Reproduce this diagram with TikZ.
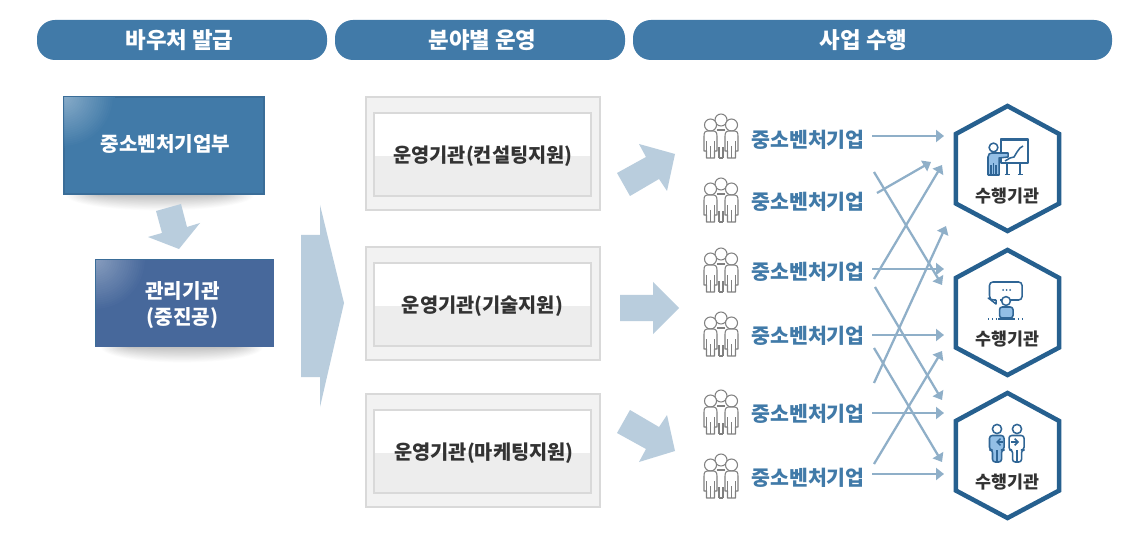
\documentclass[tikz,border=0pt]{standalone}
\usepackage{fontspec}
\setmainfont{Noto Sans CJK KR}
\usetikzlibrary{arrows.meta}
\definecolor{hdr}{HTML}{417AA8}
\definecolor{hdrb}{HTML}{3A6D98}
\definecolor{mgr}{HTML}{47689B}
\definecolor{pale}{HTML}{B9CDDD}
\definecolor{conn}{HTML}{8FAFC8}
\definecolor{hexc}{HTML}{26608F}
\definecolor{ink}{HTML}{333333}
\definecolor{iconl}{HTML}{2F6595}
\definecolor{iconf}{HTML}{93BFE6}
\definecolor{pers}{HTML}{808080}
\tikzset{
  hdrlabel/.style={text=white,font=\bfseries\fontsize{16.8}{20}\selectfont,inner sep=0pt},
  boxlabel/.style={text=white,font=\bfseries\fontsize{15.1}{18}\selectfont,inner sep=0pt,align=center},
  orglabel/.style={text=ink,font=\bfseries\fontsize{14.8}{18}\selectfont,inner sep=0pt},
  firmlabel/.style={text=hdr,font=\bfseries\fontsize{15.4}{18}\selectfont,inner sep=0pt},
  hexlabel/.style={text=ink,font=\bfseries\fontsize{13}{16}\selectfont,inner sep=0pt},
  flow/.style={draw=conn,line width=1.7pt,-{Triangle[length=6pt,width=9pt]}},
  hexline/.style={draw=hexc,fill=white,line width=3.4pt,miter limit=10},
  iconline/.style={draw=iconl,line width=1.15pt,line join=round},
  people/.pic={
    \begin{scope}[draw=pers,line width=.8pt,fill=white,line join=round]
      \filldraw (0,-17) circle (6);
      \draw (-4,-7) -- (4,-7);
      \draw (-2,10) -- (-2,21) (2,10) -- (2,21) (-2,21) -- (2,21);
      \foreach \s in {-1,1}{
        \begin{scope}[xscale=\s]
          \filldraw (10.5,-12) circle (6);
          \filldraw (4,14) -- (4,-1) .. controls (4,-5) and (6,-6) .. (7,-6)
            -- (14,-6) .. controls (15.5,-6) and (17,-5) .. (17,-1) -- (17,14)
            -- (14.5,14) -- (14.5,21) -- (6.5,21) -- (6.5,14) -- cycle;
          \draw (10.5,9) -- (10.5,21);
          \draw (6.5,4) -- (6.5,14) (14.5,4) -- (14.5,14);
        \end{scope}}
    \end{scope}},
  hexshape/.pic={
    \path[hexline] (0,-62.5) -- (51.7,-34.5) -- (51.7,35) -- (0,62.5) -- (-51.7,35) -- (-51.7,-34.5) -- cycle;}
}
\newcommand{\softshadow}[3]{% centre x, y, half width
  \begin{scope}
    \clip (#1-#3-10,#2-3) rectangle (#1+#3+10,#2+24);
    \foreach \k in {0,...,24}{
      \pgfmathsetmacro\rx{#3*(1-0.35*\k/24)}
      \pgfmathsetmacro\ry{16*(1-\k/25)}
      \pgfmathsetmacro\m{24*\k/24}
      \fill[black!\m] (#1,#2) ellipse (\rx*1 and \ry*1);
    }
  \end{scope}}
\newcommand{\cornerglow}[4]{% colour, x, y, mix
  \foreach \k in {0,...,24}{
    \pgfmathsetmacro\rr{52*(1-\k/25)}
    \pgfmathsetmacro\m{100-#4*\k/24}
    \fill[#1!\m!white] (#2,#3) circle (\rr);
  }}
\begin{document}
\begin{tikzpicture}[x=.75pt,y=-.75pt]
\useasboundingbox (0,0) rectangle (1148,541);
\fill[white] (0,0) rectangle (1148,541);

% headers
\fill[hdr,rounded corners=13.5pt] (37,20) rectangle (327,60);
\fill[hdr,rounded corners=13.5pt] (335,20) rectangle (625,60);
\fill[hdr,rounded corners=13.5pt] (633,20) rectangle (1112,60);
\node[hdrlabel] (h1) at (179.5,40) {바우처 발급};
\node[hdrlabel] (h2) at (482.5,40) {분야별 운영};
\node[hdrlabel] (h3) at (863.5,40) {사업 수행};

% soft shadows
\softshadow{160}{195}{95}
\softshadow{182}{347}{82}

% left boxes
\fill[hdr] (63,96) rectangle (265,195);
\draw[hdrb,line width=1.2pt] (63.8,96.8) rectangle (264.2,194.2);
\begin{scope}
  \clip (64.5,97.5) rectangle (263.5,193.5);
  \cornerglow{hdr}{63}{96}{38}
\end{scope}
\fill[mgr] (95,259) rectangle (274,347);
\draw[hdrb,line width=.9pt] (95.6,259.6) -- (273.4,259.6) (95.6,259.6) -- (95.6,346.4);
\begin{scope}
  \clip (96.2,260.2) rectangle (274,347);
  \cornerglow{mgr}{95}{259}{35}
\end{scope}
\node[boxlabel] (b1) at (165.5,144) {중소벤처기업부};
\node[boxlabel,align=center] (b2) at (182.5,305) {관리기관\\[1pt](중진공)};

% pale arrows
\fill[pale] (156,211) -- (181,204) -- (187,227) -- (200,223) -- (179,249) -- (148,237) -- (162,233) -- cycle;
\fill[pale] (301,235) -- (320,235) -- (320,205) -- (344,303) -- (320,407) -- (320,377) -- (301,377) -- cycle;
\fill[pale] (617,173) -- (646,157) -- (639,144) -- (675,154) -- (667,191) -- (659,179) -- (630,196) -- cycle;
\fill[pale] (620,295) -- (653,295) -- (653,282) -- (679,308) -- (653,334) -- (653,321) -- (620,321) -- cycle;
\fill[pale] (617,433) -- (630,410) -- (659,427) -- (667,415) -- (675,451) -- (639,462) -- (646,449) -- cycle;

% middle boxes
\foreach \t/\n in {97/a,247/b,394/c}{
  \fill[black!5] (366,\t) rectangle (600,\t+113);
  \draw[black!15,line width=1.5pt] (366,\t) rectangle (600,\t+113);
  \fill[white] (374,\t+16) rectangle (591,\t+59);
  \fill[black!7] (374,\t+59) rectangle (591,\t+99);
  \draw[black!15,line width=1.5pt] (374,\t+16) rectangle (591,\t+99);
}
\node[orglabel] (o1) at (483,156) {운영기관(컨설팅지원)};
\node[orglabel] (o2) at (482.5,306) {운영기관(기술지원)};
\node[orglabel] (o3) at (484,453) {운영기관(마케팅지원)};

% companies
\foreach \y in {137,201,271,335,413,477}{
  \pic at (721,\y) {people};
}
\node[firmlabel] (f1) at (808,140) {중소벤처기업};
\node[firmlabel] (f2) at (808,202) {중소벤처기업};
\node[firmlabel] (f3) at (808,272) {중소벤처기업};
\node[firmlabel] (f4) at (808,336) {중소벤처기업};
\node[firmlabel] (f5) at (808,414) {중소벤처기업};
\node[firmlabel] (f6) at (808,478) {중소벤처기업};

% hexagons
\pic at (1007.5,168.5) {hexshape};
\pic at (1007.5,312.5) {hexshape};
\pic at (1007.5,455.5) {hexshape};
\node[hexlabel] (x1) at (1007.5,196) {수행기관};
\node[hexlabel] (x2) at (1007.5,339) {수행기관};
\node[hexlabel] (x3) at (1007.5,482) {수행기관};

% connector ends
\coordinate (s1) at (872,136); \coordinate (t1) at (944,136);
\coordinate (s2) at (877,193); \coordinate (t2) at (931,162);
\coordinate (s3) at (874,279); \coordinate (t3) at (942,165);
\coordinate (s4) at (874,172); \coordinate (t4) at (942,285);
\coordinate (s5) at (872,269); \coordinate (t5) at (944,269);
\coordinate (s6) at (874,383); \coordinate (t6) at (946,226);
\coordinate (s7) at (875,287); \coordinate (t7) at (942,400);
\coordinate (s8) at (872,335); \coordinate (t8) at (944,335);
\coordinate (s9) at (874,348); \coordinate (t9) at (942,462);
\coordinate (s10) at (874,464); \coordinate (t10) at (942,351);
\coordinate (s11) at (872,413); \coordinate (t11) at (944,413);
\coordinate (s12) at (872,474); \coordinate (t12) at (944,474);
\foreach \i in {1,...,12}{\draw[flow] (s\i) -- (t\i);}

% icon: presentation
\begin{scope}[iconline]
  \draw (1001,139) rectangle (1028,163);
  \draw[line width=2pt] (1001,140) -- (1028,140);
  \draw (1005,161) -- (1010,158) -- (1014,157) -- (1017,152) -- (1020,148) -- (1023,146);
  \draw (1007,163) -- (1007,174) (1020,163) -- (1020,174);
  \draw (1004.5,174.5) -- (1009.5,174.5) (1017.5,174.5) -- (1022.5,174.5);
  \filldraw[fill=white] (993.5,147.5) circle (4.4);
  \filldraw[fill=iconf] (988,175) -- (988,157) .. controls (988,154) and (990,153) .. (992,153)
    -- (1008,153) -- (1008,157) -- (999,158) -- (999,175) -- cycle;
  \draw (993.5,163) -- (993.5,175) (991,175) -- (991,165) (996,175) -- (996,165);
\end{scope}
% icon: speech
\begin{scope}[iconline]
  \draw[rounded corners=2.5pt] (996,300) -- (991,300) -- (989.5,299) -- (989.5,282) -- (1022,282) -- (1022,300) -- (1000,300);
  \draw (991,300) -- (996,304) -- (996,300);
  \fill[iconl] (1003,290) circle (1) (1006.5,290) circle (1) (1010,290) circle (1);
  \filldraw[fill=white] (1006,301) circle (4.4);
  \filldraw[fill=iconf,rounded corners=2pt] (999.5,318) -- (999.5,307) -- (1013,307) -- (1013,318) -- cycle;
  \draw[dotted,line width=.9pt] (988,319) -- (998,319) (1014,319) -- (1023,319);
  \draw[line width=1.2pt] (998,319) -- (1014,319);
\end{scope}
% icon: exchange
\begin{scope}[iconline]
  \filldraw[fill=white] (997,429) circle (4.6);
  \filldraw[fill=white] (1017,429) circle (4.6);
  \filldraw[fill=iconf,rounded corners=2pt] (992.5,462) -- (992.5,450) -- (989.5,450) -- (989.5,435.5) -- (1004,435.5) -- (1004,450) -- (1001.5,450) -- (1001.5,462) -- cycle;
  \draw[rounded corners=2pt] (1012.5,462) -- (1012.5,450) -- (1009,450) -- (1009,435.5) -- (1024,435.5) -- (1024,450) -- (1021.5,450) -- (1021.5,462) -- cycle;
  \draw (997,450) -- (997,462) (1017,450) -- (1017,462);
  \draw[-{Straight Barb[length=2.5pt,width=5pt]}] (1003,442) -- (996,442);
  \draw[-{Straight Barb[length=2.5pt,width=5pt]}] (1011,442) -- (1019,442);
\end{scope}
\end{tikzpicture}
\end{document}
